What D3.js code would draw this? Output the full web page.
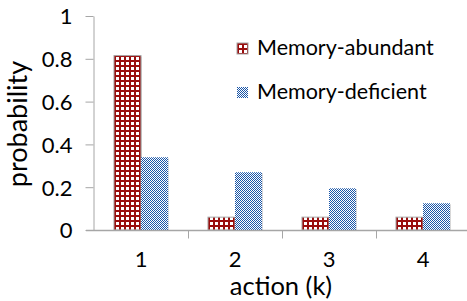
<!DOCTYPE html>
<meta charset="utf-8">

<!-- Load d3.js -->
<script src="https://d3js.org/d3.v7.js"></script>

<style>
    body { margin: 0; background: #fff; }
    text { font-family: "Lato", "Open Sans", sans-serif; fill: #000; }
</style>

<!-- Create a div where the graph will take place -->
<div id="my_dataviz"></div>

<script>

    // data
    const actions = ["1", "2", "3", "4"];
    const seriesNames = ["Memory-abundant", "Memory-deficient"];
    const abundant = [0.815, 0.06, 0.06, 0.06];
    const deficient = [0.34, 0.27, 0.195, 0.125];
    const yTicks = [0, 0.2, 0.4, 0.6, 0.8, 1];

    const W = 467, H = 301;
    const plotLeft = 94, plotRight = 470, plotTop = 16, plotBottom = 230;

    const svg = d3.select("#my_dataviz")
        .append("svg")
        .attr("width", W)
        .attr("height", H);

    // patterns
    const defs = svg.append("defs");
    const grid = defs.append("pattern")
        .attr("id", "grid")
        .attr("patternUnits", "userSpaceOnUse")
        .attr("width", 5).attr("height", 5);
    grid.append("rect").attr("width", 5).attr("height", 5).attr("fill", "#fff");
    grid.append("rect").attr("x", 0).attr("y", 0).attr("width", 2).attr("height", 5).attr("fill", "#9a0d0d");
    grid.append("rect").attr("x", 0).attr("y", 0).attr("width", 5).attr("height", 2).attr("fill", "#9a0d0d");

    const checker = defs.append("pattern")
        .attr("id", "checker")
        .attr("patternUnits", "userSpaceOnUse")
        .attr("width", 2).attr("height", 2);
    checker.append("rect").attr("width", 2).attr("height", 2).attr("fill", "#fff");
    checker.append("rect").attr("x", 0).attr("y", 0).attr("width", 1).attr("height", 1).attr("fill", "#1a56a8");
    checker.append("rect").attr("x", 1).attr("y", 1).attr("width", 1).attr("height", 1).attr("fill", "#1a56a8");

    // scales
    const x = d3.scaleBand()
        .domain(actions)
        .range([plotLeft, plotRight]);

    const xInner = d3.scaleBand()
        .domain(seriesNames)
        .range([0, x.bandwidth()])
        .paddingOuter(0.74);

    const y = d3.scaleLinear()
        .domain([0, 1])
        .range([plotBottom, plotTop]);

    // Y axis
    const yAxis = svg.append("g")
        .attr("transform", `translate(${plotLeft - 0.5},0)`)
        .call(d3.axisLeft(y).tickValues(yTicks).tickFormat(d3.format("~g")).tickSize(8).tickSizeOuter(0));
    yAxis.select(".domain").attr("stroke", "#a6a6a6");
    yAxis.selectAll(".tick line").attr("stroke", "#a6a6a6");
    yAxis.selectAll(".tick text")
        .attr("x", -21)
        .attr("dy", "0.36em")
        .style("font-size", "22px");

    // bars
    const data = actions.map(function (a, i) {
        return [
            { key: seriesNames[0], action: a, value: abundant[i] },
            { key: seriesNames[1], action: a, value: deficient[i] }
        ];
    });

    const groups = svg.selectAll(".grp")
        .data(data)
        .join("g")
        .attr("transform", function (d) { return `translate(${x(d[0].action)},0)`; });

    // soft shadow
    groups.selectAll(".shadow")
        .data(function (d) { return d; })
        .join("rect")
        .attr("x", function (d) { return xInner(d.key) + 1; })
        .attr("y", function (d) { return y(d.value) + 1; })
        .attr("width", xInner.bandwidth())
        .attr("height", function (d) { return plotBottom - y(d.value); })
        .attr("fill", "#d9d9d9");

    groups.selectAll(".bar")
        .data(function (d) { return d; })
        .join("rect")
        .attr("x", function (d) { return xInner(d.key); })
        .attr("y", function (d) { return y(d.value); })
        .attr("width", xInner.bandwidth())
        .attr("height", function (d) { return plotBottom - y(d.value); })
        .attr("fill", function (d) { return d.key === seriesNames[0] ? "url(#grid)" : "url(#checker)"; })
        .attr("stroke", function (d) { return d.key === seriesNames[0] ? "#a6a6a6" : "none"; })
        .attr("stroke-width", 1);

    // X axis
    const xAxis = svg.append("g")
        .attr("transform", `translate(0,${plotBottom + 0.5})`)
        .call(d3.axisBottom(x).tickSize(0).tickSizeOuter(0));
    xAxis.select(".domain").attr("stroke", "#a6a6a6").attr("stroke-width", 1.5)
        .attr("d", `M${plotLeft - 8},0H${plotRight}`);
    xAxis.selectAll(".tick text")
        .attr("y", 36)
        .attr("dy", 0)
        .style("font-size", "22px");
    // category separators
    xAxis.selectAll(".sep")
        .data(actions.slice(1))
        .join("line")
        .attr("x1", function (d) { return Math.round(x(d)) + 0.5; })
        .attr("x2", function (d) { return Math.round(x(d)) + 0.5; })
        .attr("y1", 0)
        .attr("y2", 8)
        .attr("stroke", "#a6a6a6");

    // axis titles
    svg.append("text")
        .attr("x", 281)
        .attr("y", 295)
        .attr("text-anchor", "middle")
        .style("font-size", "25.5px")
        .text("action (k)");

    svg.append("text")
        .attr("transform", "translate(27,124)rotate(-90)")
        .attr("text-anchor", "middle")
        .style("font-size", "27px")
        .text("probability");

    // legend
    const legend = svg.selectAll(".legend")
        .data(seriesNames)
        .join("g")
        .attr("transform", function (d, i) { return `translate(237,${43 + i * 44})`; });
    legend.append("rect")
        .attr("width", 11)
        .attr("height", 11)
        .attr("fill", function (d, i) { return i === 0 ? "url(#grid)" : "url(#checker)"; })
        .attr("stroke", function (d, i) { return i === 0 ? "#a6a6a6" : "none"; });
    legend.append("text")
        .attr("x", 20)
        .attr("y", 12)
        .style("font-size", "21.5px")
        .text(function (d) { return d; });

</script>
